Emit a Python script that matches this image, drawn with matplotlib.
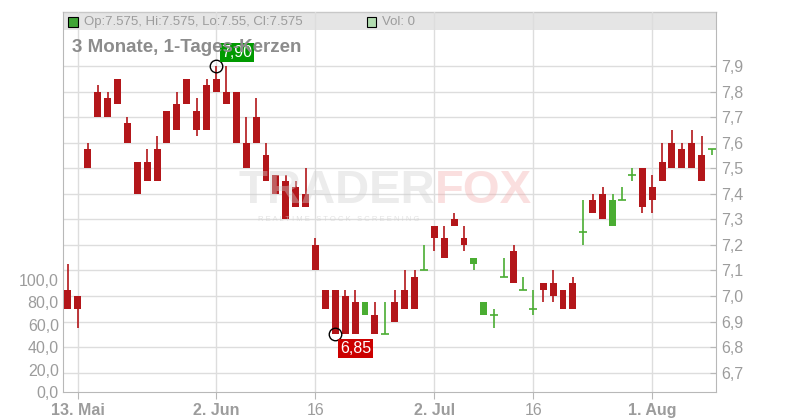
import matplotlib
matplotlib.use("Agg")
import matplotlib.pyplot as plt
from matplotlib.patches import Rectangle

plt.rcParams["font.family"] = ["Liberation Sans", "DejaVu Sans"]

# daily candles, one entry per trading day starting 12 May
opens = [7.025, 7.0, 7.575, 7.8, 7.775, 7.85, 7.675, 7.525, 7.525, 7.575,
         7.725, 7.75, 7.85, 7.725, 7.825, 7.85, 7.8, 7.8, 7.6, 7.7,
         7.55, 7.475, 7.45, 7.425, 7.4, 7.2, 7.025, 7.025, 7.0, 6.975,
         6.925, 6.925, 6.85, 6.975, 7.025, 7.075, 7.1, 7.275, 7.225, 7.3,
         7.225, 7.125, 6.925, 6.925, 7.075, 7.175, 7.025, 6.95, 7.05, 7.05,
         7.025, 7.05, 7.25, 7.375, 7.4, 7.275, 7.375, 7.475, 7.5, 7.425,
         7.525, 7.6, 7.575, 7.6, 7.55, 7.575]
highs = [7.125, 7.0, 7.6, 7.825, 7.8, 7.85, 7.7, 7.525, 7.575, 7.625,
         7.725, 7.8, 7.85, 7.775, 7.85, 7.9, 7.9, 7.8, 7.7, 7.775,
         7.6, 7.475, 7.475, 7.45, 7.5, 7.225, 7.025, 7.025, 7.025, 7.025,
         6.975, 6.975, 6.975, 7.025, 7.1, 7.1, 7.2, 7.275, 7.275, 7.325,
         7.275, 7.15, 6.975, 6.95, 7.15, 7.2, 7.075, 7.025, 7.05, 7.1,
         7.025, 7.075, 7.375, 7.4, 7.425, 7.4, 7.425, 7.5, 7.5, 7.475,
         7.6, 7.65, 7.6, 7.65, 7.625, 7.575]
lows = [6.95, 6.875, 7.5, 7.7, 7.7, 7.75, 7.6, 7.4, 7.45, 7.45,
        7.6, 7.65, 7.75, 7.625, 7.65, 7.8, 7.75, 7.6, 7.5, 7.6,
        7.45, 7.4, 7.3, 7.35, 7.35, 7.1, 6.95, 6.85, 6.85, 6.85,
        6.925, 6.85, 6.85, 6.9, 6.95, 6.95, 7.1, 7.175, 7.15, 7.275,
        7.175, 7.1, 6.925, 6.875, 7.075, 7.05, 7.025, 6.925, 6.975, 6.975,
        6.95, 6.95, 7.2, 7.325, 7.3, 7.275, 7.375, 7.45, 7.325, 7.325,
        7.45, 7.5, 7.5, 7.5, 7.45, 7.55]
closes = [6.95, 6.95, 7.5, 7.7, 7.7, 7.75, 7.6, 7.4, 7.45, 7.45,
          7.6, 7.65, 7.75, 7.65, 7.65, 7.8, 7.75, 7.6, 7.5, 7.6,
          7.45, 7.4, 7.3, 7.35, 7.35, 7.1, 6.95, 6.85, 6.85, 6.85,
          6.975, 6.85, 6.85, 6.9, 6.95, 6.95, 7.1, 7.225, 7.15, 7.275,
          7.2, 7.15, 6.975, 6.925, 7.075, 7.05, 7.025, 6.95, 7.025, 7.0,
          6.95, 6.95, 7.25, 7.325, 7.3, 7.375, 7.375, 7.475, 7.35, 7.375,
          7.45, 7.5, 7.5, 7.5, 7.45, 7.575]

date_ticks = [1, 15, 25, 37, 47, 59]
date_labels = ["13. Mai", "2. Jun", "16", "2. Jul", "16", "1. Aug"]
price_ticks = [6.7, 6.8, 6.9, 7.0, 7.1, 7.2, 7.3, 7.4, 7.5, 7.6, 7.7, 7.8, 7.9]
vol_ticks = [0, 20, 40, 60, 80, 100]

RED = "#b3161a"
GREEN = "#4aad32"
GRID = "#dddddd"
AXIS = "#b8b8b8"
LABEL = "#9c9c9c"
W, H = 800, 420


def comma(v, nd):
    return f"{v:.{nd}f}".replace(".", ",")


fig = plt.figure(figsize=(8, 4.2), dpi=100)
ax = fig.add_axes([63 / W, 28 / H, 653 / W, 380 / H])
axv = ax.twinx()  # volume scale, shown on the left
n = len(opens)

# grid
for p in price_ticks:
    ax.axhline(p, color=GRID, lw=1, zorder=0.5)
for t in date_ticks:
    ax.axvline(t, color=GRID, lw=1, zorder=0.5)

# header band
ax.add_patch(Rectangle((0, (392 - 30) / 380), 1, 18 / 380, transform=ax.transAxes,
                       facecolor="#e5e5e5", edgecolor="none", zorder=0.3, clip_on=False))
ax.plot([0, 1], [1, 1], transform=ax.transAxes, color="#c8c8c8", lw=1, zorder=0.4,
        clip_on=False)

# watermark
fig.text(435 / W, 1 - 191 / H, "TRADER", ha="right", va="center", fontsize=34,
         fontweight="bold", color="#d0d0d0", alpha=0.4, zorder=0.6)
fig.text(435 / W, 1 - 191 / H, "FOX", ha="left", va="center", fontsize=34,
         fontweight="bold", color="#f2a6a6", alpha=0.35, zorder=0.6)
fig.text(339 / W, 1 - 219 / H, "R E A L T I M E   S T O C K   S C R E E N I N G",
         ha="center", va="center", fontsize=5.5, color="#d0d0d0", alpha=0.6)

# candles
for i in range(n):
    o, h, l, c = opens[i], highs[i], lows[i], closes[i]
    col = GREEN if c >= o else RED
    ax.vlines(i, l, h, color=col, lw=1.2, zorder=3)
    if c == o:
        ax.hlines(o, i - 0.4, i + 0.4, color=col, lw=1.2, zorder=3)
    else:
        ax.bar(i, abs(c - o), bottom=min(o, c), width=0.7, color=col, zorder=3)

# high / low markers
imax = highs.index(max(highs))
imin = lows.index(min(lows))
ax.plot([imax, imin], [highs[imax], lows[imin]], "o", mfc="none", mec="black",
        ms=9, mew=1, zorder=4)
ax.annotate(comma(highs[imax], 2), xy=(imax, highs[imax]), xytext=(5, 6),
            textcoords="offset pixels", ha="left", va="bottom", color="white",
            fontsize=11.5, zorder=5,
            bbox=dict(boxstyle="square,pad=0.12", fc="#009a00", ec="none"))
ax.annotate(comma(lows[imin], 2), xy=(imin, lows[imin]), xytext=(5, -7),
            textcoords="offset pixels", ha="left", va="top", color="white",
            fontsize=11.5, zorder=5,
            bbox=dict(boxstyle="square,pad=0.12", fc="#cc0000", ec="none"))

# price axis on the right
ax.set_xlim(-0.5, 65.45)
ax.set_ylim(6.6245, 8.111)
ax.yaxis.tick_right()
ax.set_yticks(price_ticks)
ax.set_yticklabels([comma(p, 1) for p in price_ticks])
ax.tick_params(axis="y", direction="in", length=4, color=AXIS, labelcolor=LABEL,
               labelsize=11.5, pad=4)
ax.set_xticks(date_ticks)
ax.set_xticklabels(date_labels)
for lab in ax.get_xticklabels():
    if lab.get_text() != "16":
        lab.set_fontweight("bold")
ax.tick_params(axis="x", direction="out", length=5, color=AXIS, labelcolor=LABEL,
               labelsize=11.5, pad=3)
ax.spines["top"].set_visible(False)
for s in ["left", "right", "bottom"]:
    ax.spines[s].set_color(AXIS)

# volume scale on the left
axv.set_ylim(0, 339)
axv.yaxis.tick_left()
axv.set_yticks(vol_ticks)
axv.set_yticklabels([comma(v, 1) for v in vol_ticks])
axv.tick_params(axis="y", length=0, labelcolor=LABEL, labelsize=11.5, pad=3)
for s in axv.spines.values():
    s.set_visible(False)

# header contents
fig.patches.append(Rectangle((68 / W, 1 - 27 / H), 10 / W, 10 / H, transform=fig.transFigure,
                             facecolor="#3fa535", edgecolor="black", lw=0.8, zorder=6))
fig.text(84 / W, 1 - 22 / H,
         f"Op:{opens[-1]}, Hi:{highs[-1]}, Lo:{lows[-1]}, Cl:{closes[-1]}",
         ha="left", va="center", fontsize=9.5, color=LABEL, zorder=6)
fig.patches.append(Rectangle((367 / W, 1 - 27 / H), 9 / W, 10 / H, transform=fig.transFigure,
                             facecolor="#b2ddb0", edgecolor="black", lw=0.8, zorder=6))
fig.text(382 / W, 1 - 22 / H, "Vol: 0", ha="left", va="center", fontsize=9.5,
         color=LABEL, zorder=6)
fig.text(72 / W, 1 - 48 / H, "3 Monate, 1-Tages-Kerzen", ha="left", va="center",
         fontsize=13.5, fontweight="bold", color="#8c8c8c", zorder=10)

fig.savefig("out.png", dpi=100)
